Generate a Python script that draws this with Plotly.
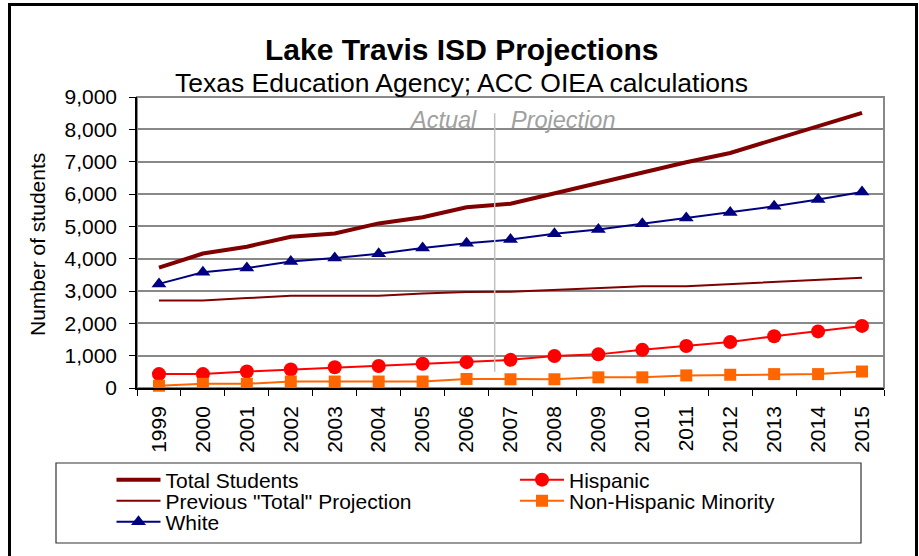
import plotly.graph_objects as go

years = [str(y) for y in range(1999, 2016)]
total_students = [3720, 4160, 4370, 4680, 4780, 5090, 5280, 5590, 5700, 6020, 6360, 6670, 6980, 7270, 7680, 8070, 8510]
previous_total = [2710, 2710, 2780, 2850, 2850, 2850, 2920, 2970, 2980, 3040, 3100, 3150, 3150, 3210, 3270, 3350, 3410]
white = [3220, 3580, 3710, 3910, 4020, 4150, 4330, 4480, 4590, 4770, 4900, 5080, 5260, 5430, 5620, 5830, 6060]
hispanic = [430, 430, 510, 570, 640, 680, 750, 800, 870, 990, 1040, 1180, 1300, 1420, 1600, 1750, 1920]
non_hispanic_minority = [70, 130, 130, 200, 200, 200, 200, 280, 270, 270, 330, 330, 390, 410, 430, 430, 510]
divider_position = 7.64  # between 2006 (actual) and 2007 (projection), as category index

FONT = "Liberation Sans, Arial, sans-serif"

fig = go.Figure()
fig.add_trace(go.Scatter(x=years, y=total_students, name="Total Students", mode="lines",
                         line=dict(color="#800000", width=4), legend="legend"))
fig.add_trace(go.Scatter(x=years, y=previous_total, name='Previous "Total" Projection', mode="lines",
                         line=dict(color="#800000", width=2), legend="legend2"))
fig.add_trace(go.Scatter(x=years, y=white, name="White", mode="lines+markers",
                         line=dict(color="#000080", width=2),
                         marker=dict(symbol="triangle-up", size=13, color="#000080"), legend="legend3"))
fig.add_trace(go.Scatter(x=years, y=hispanic, name="Hispanic", mode="lines+markers",
                         line=dict(color="#FF0000", width=2),
                         marker=dict(symbol="circle", size=14, color="#FF0000"), legend="legend4"))
fig.add_trace(go.Scatter(x=years, y=non_hispanic_minority, name="Non-Hispanic Minority", mode="lines+markers",
                         line=dict(color="#FF6600", width=2),
                         marker=dict(symbol="square", size=12, color="#FF6600"), legend="legend5"))
for tr in fig.data:
    tr.cliponaxis = False

PL, PR, PT, PB = 137, 35, 97, 168
W, H = 919, 556
pw = W - PL - PR
ph = H - PT - PB

def px(x):
    return (x - PL) / pw

def py(y):
    return (H - PB - y) / ph

leg_common = dict(bgcolor="rgba(0,0,0,0)", borderwidth=0, font=dict(family=FONT, size=21, color="black"),
                  xanchor="left", yanchor="middle", itemwidth=44, orientation="v")
col1, col2 = px(111.5), px(515)
rows = [py(480), py(501), py(522)]

fig.update_layout(
    width=W, height=H, autosize=False,
    margin=dict(l=PL, r=PR, t=PT, b=PB),
    paper_bgcolor="white", plot_bgcolor="white",
    font=dict(family=FONT, size=21, color="black"),
    showlegend=True,
    legend=dict(x=col1, y=rows[0], **leg_common),
    legend2=dict(x=col1, y=rows[1], **leg_common),
    legend3=dict(x=col1, y=rows[2], **leg_common),
    legend4=dict(x=col2, y=rows[0], **leg_common),
    legend5=dict(x=col2, y=rows[1], **leg_common),
    xaxis=dict(type="category", range=[-0.5, 16.5], showgrid=False, showline=True, linecolor="black",
               linewidth=1.5, ticks="outside", ticklen=6, tickcolor="black", tickson="boundaries",
               tickangle=-90, tickfont=dict(size=21, family=FONT), ticklabelstandoff=8),
    yaxis=dict(range=[0, 9000], dtick=1000, tickformat=",", showgrid=True, gridcolor="#888888",
               gridwidth=2, zeroline=False, showline=True, linecolor="black", linewidth=1.5,
               ticks="outside", ticklen=6, tickcolor="black", tickfont=dict(size=21, family=FONT),
               ticklabelstandoff=8),
)

shapes = [
    # plot area frame (gray)
    dict(type="rect", xref="paper", yref="paper", x0=0, x1=1, y0=0, y1=1,
         line=dict(color="#888888", width=2), layer="below"),
    # actual / projection divider
    dict(type="line", xref="x", yref="y", x0=divider_position, x1=divider_position, y0=500, y1=8500,
         line=dict(color="#c0c0c0", width=1.5)),
    # legend box
    dict(type="rect", xref="paper", yref="paper", x0=px(56), x1=px(861), y0=py(463), y1=py(543),
         line=dict(color="#333333", width=1.2)),
    # outer border
    dict(type="rect", xref="paper", yref="paper", x0=px(9.5), x1=px(916.5), y0=py(4.5), y1=py(575),
         line=dict(color="black", width=3)),
]
fig.update_layout(shapes=shapes)

annotations = [
    dict(text="<b>Lake Travis ISD Projections</b>", xref="paper", yref="paper", x=px(461.5), y=py(50),
         xanchor="center", yanchor="middle", showarrow=False, font=dict(family=FONT, size=30, color="black")),
    dict(text="Texas Education Agency; ACC OIEA calculations", xref="paper", yref="paper", x=px(461), y=py(83),
         xanchor="center", yanchor="middle", showarrow=False, font=dict(family=FONT, size=26.5, color="black")),
    dict(text="Number of students", xref="paper", yref="paper", x=px(37), y=py(245), textangle=-90,
         xanchor="center", yanchor="middle", showarrow=False, font=dict(family=FONT, size=21, color="black")),
    dict(text="<i>Actual</i>", xref="x", yref="paper", x=divider_position, y=py(120), xanchor="right",
         yanchor="middle", xshift=-16, showarrow=False, font=dict(family=FONT, size=23.5, color="#a0a0a0")),
    dict(text="<i>Projection</i>", xref="x", yref="paper", x=divider_position, y=py(120), xanchor="left",
         yanchor="middle", xshift=14, showarrow=False, font=dict(family=FONT, size=23.5, color="#a0a0a0")),
]
fig.update_layout(annotations=annotations)

fig.write_html("out.html", config={"displayModeBar": False},
               post_script="document.body.style.margin='0';document.body.style.overflow='hidden';")
